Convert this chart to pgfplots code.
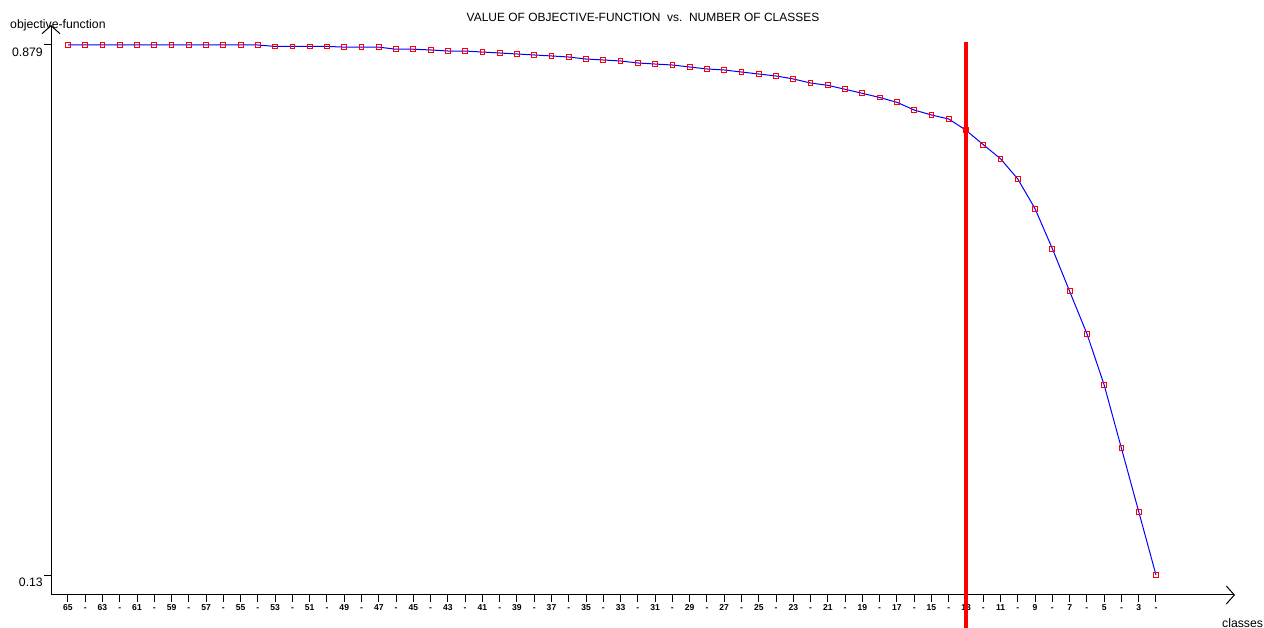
\documentclass[border=0pt]{standalone}
\usepackage{fontspec}
\setmainfont{Liberation Sans}
\usepackage{pgfplots}
\pgfplotsset{compat=1.18}
\usetikzlibrary{arrows.meta}

\begin{document}
\begin{tikzpicture}
\begin{axis}[
  set layers,
  at={(51bp,33bp)}, anchor=south west,
  scale only axis, width=1184bp, height=570bp,
  xmin=-2.574, xmax=65.98, x dir=reverse,
  ymin=0.10174, ymax=0.90726,
  clip=false,
  axis lines=left,
  axis line style={black, line width=1bp},
  x axis line style={{Straight Barb[length=8bp,width=18bp,line width=1bp]}-},
  y axis line style={-{Straight Barb[length=8bp,width=18bp,line width=1bp]}},
  tick align=outside,
  major tick length=7bp,
  tick style={black, line width=1bp},
  xtick={2,...,65},
  xticklabels={-,3,-,5,-,7,-,9,-,11,-,13,-,15,-,17,-,19,-,21,-,23,-,25,-,27,-,29,-,31,-,33,-,35,-,37,-,39,-,41,-,43,-,45,-,47,-,49,-,51,-,53,-,55,-,57,-,59,-,61,-,63,-,65},
  xticklabel style={font=\fontsize{8.6}{9}\selectfont\bfseries, text=black, text height=6.2bp, text depth=0bp, inner ysep=2.3bp},
  ytick={0.13,0.879},
  yticklabels={0.13,0.879},
  yticklabel style={font=\fontsize{12.3}{14}\selectfont, inner xsep=1bp, yshift=-7bp},
  title={VALUE OF OBJECTIVE-FUNCTION\ \ vs.\ \ NUMBER OF CLASSES},
  title style={at={(axis description cs:0.5,1.003)}, anchor=center, yshift=0pt, font=\fontsize{12}{13}\selectfont, inner sep=0pt},
  xlabel={classes},
  xlabel style={at={(axis description cs:0.989,-0.049)}, anchor=west, font=\fontsize{12.3}{14}\selectfont, inner sep=0pt},
  ylabel={objective-function},
  ylabel style={at={(axis description cs:-0.0346,1.0)}, anchor=west, rotate=-90, font=\fontsize{12.3}{14}\selectfont, inner sep=0pt},
]
\addplot[blue, line width=1bp, mark=square, mark size=2.4bp, mark options={draw=red, line width=1bp, fill=none}] coordinates {
(65,0.879)(64,0.879)(63,0.879)(62,0.879)(61,0.879)(60,0.879)(59,0.879)(58,0.879)(57,0.879)(56,0.879)(55,0.879)(54,0.879)
(53,0.877)(52,0.877)(51,0.877)(50,0.877)
(49,0.876)(48,0.876)(47,0.876)
(46,0.873)(45,0.873)
(44,0.872)(43,0.8705)(42,0.8705)(41,0.869)(40,0.8677)(39,0.8663)(38,0.8649)(37,0.8635)(36,0.862)(35,0.8592)(34,0.8578)(33,0.8564)(32,0.8536)(31,0.8521)(30,0.8507)(29,0.8479)(28,0.8451)(27,0.8437)(26,0.8408)(25,0.838)(24,0.8352)(23,0.831)(22,0.8253)(21,0.822)(20,0.8164)(19,0.8107)(18,0.8048)(17,0.798)(16,0.7871)(15,0.7801)(14,0.7744)(13,0.7585)(12,0.7381)(11,0.7182)(10,0.6896)(9,0.6475)(8,0.5911)(7,0.5309)(6,0.471)(5,0.3985)(4,0.309)(3,0.2195)(2,0.13)
};
\addplot[red, line width=4.5bp, on layer=axis foreground] coordinates {(13,0.8832) (13,0.0551)};
\end{axis}
\pgfresetboundingbox
\path[use as bounding box] (0,0) rectangle (1264bp,628bp);
\end{tikzpicture}
\end{document}
